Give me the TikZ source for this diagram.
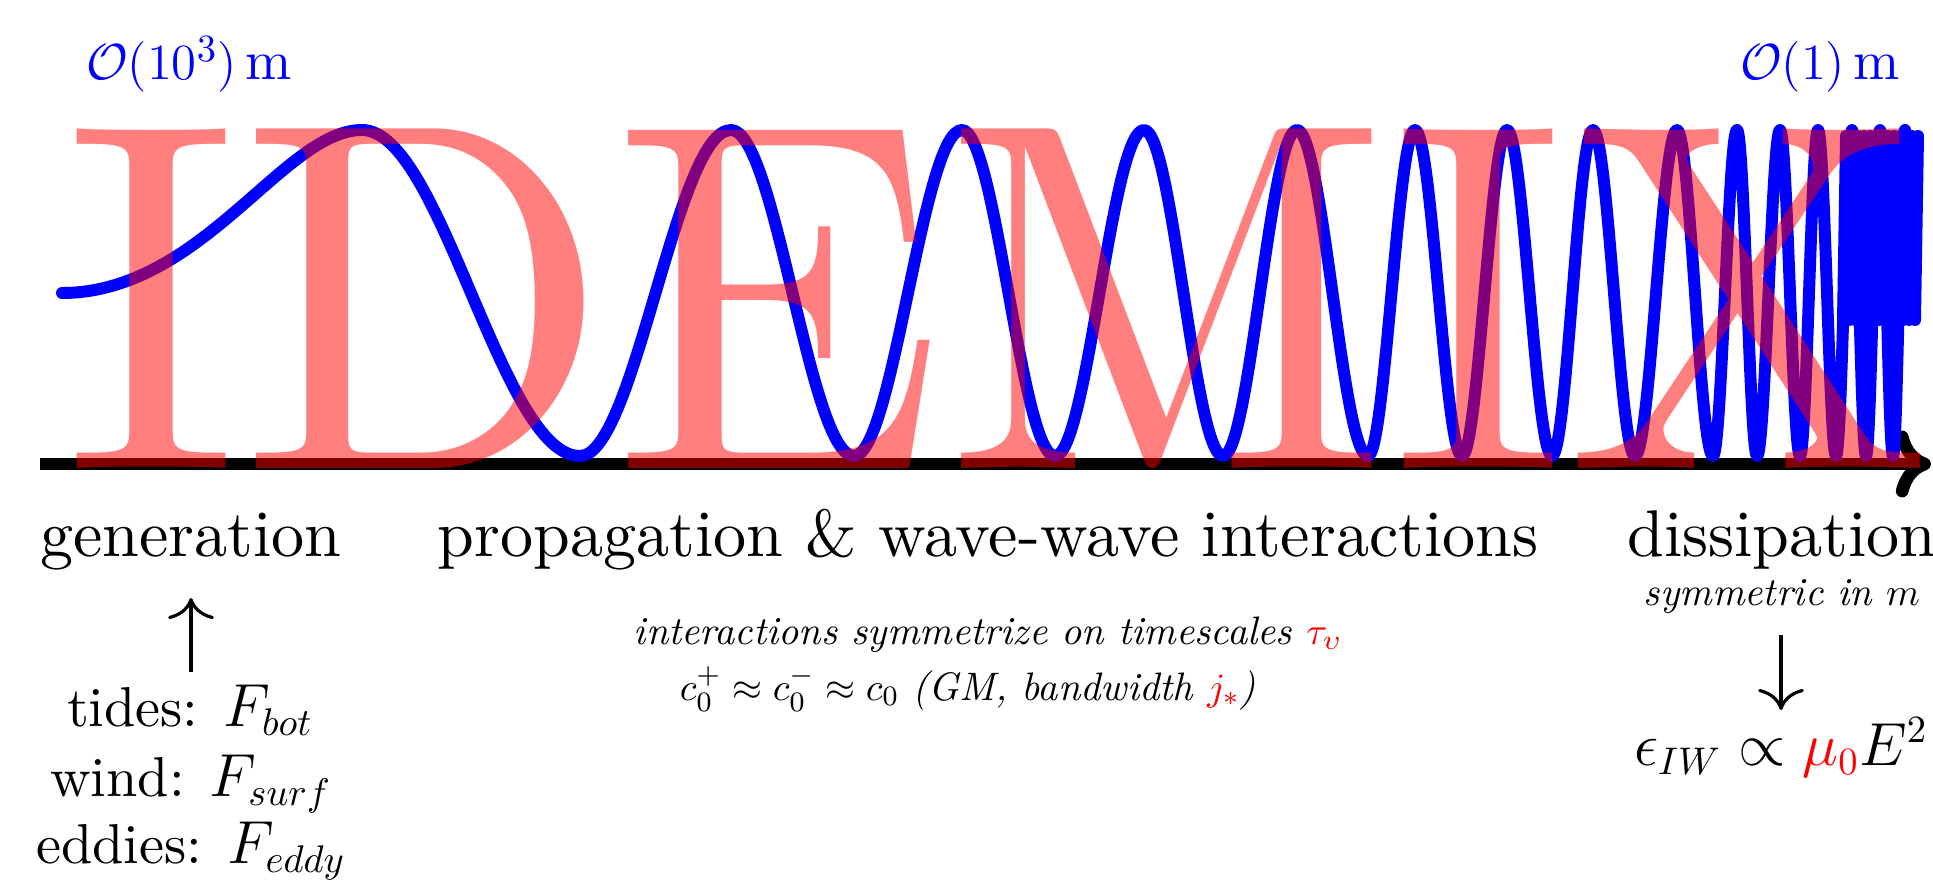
\documentclass[tikz,border=0pt]{standalone}
\usepackage{amsmath,amssymb}
\usepackage{fontspec}
\setmainfont{lmroman10}[Extension=.otf, UprightFont=*-regular, ItalicFont=*-italic, BoldFont=*-bold, BoldItalicFont=*-bolditalic]
\usetikzlibrary{arrows.meta}
\begin{document}
\begin{tikzpicture}[x=0.01cm,y=-0.01cm,
  lbl/.style={inner sep=0pt, anchor=base, font=\fontsize{18.8}{22}\selectfont},
  scl/.style={inner sep=0pt, anchor=base, text=blue, font=\fontsize{15.8}{19}\selectfont},
  frc/.style={inner sep=0pt, anchor=base, font=\fontsize{16}{19}\selectfont},
  itl/.style={inner sep=0pt, anchor=base, font=\fontsize{11.3}{14}\selectfont},
  epsl/.style={inner sep=0pt, anchor=base, font=\fontsize{16.3}{19}\selectfont},
  wave/.style={blue, line width=3.4pt, line join=round, line cap=round},
  axisline/.style={line width=3.6pt, -{Computer Modern Rightarrow[length=10pt,width=19pt]}},
  conn/.style={line width=0.9pt, -{Computer Modern Rightarrow[length=6pt,width=13pt]}},
  wmark/.style={inner sep=0pt, anchor=base, text=red, text opacity=0.5, xscale=0.98, font=\fontsize{141.4}{150}\selectfont}
]
\fill[white] (0,0) rectangle (1933,885);
\useasboundingbox (0,0) rectangle (1933,885);

% axis
\coordinate (ax0) at (40,464);
\coordinate (ax1) at (1931,464);
\draw[axisline] (ax0) -- (ax1);

% chirped wave
\draw[wave] plot[domain=0:300,samples=60,smooth] ({62+\x},{293-163*sin(90*(\x/300)^2)})
  \foreach \a/\b/\yb in {362/580/456, 580/731/130, 731/854/456, 854/962/130, 962/1055/456,
     1055/1144/130, 1144/1223/456, 1223/1297/130, 1297/1368/456, 1368/1415/130,
     1415/1462/456, 1462/1507/130, 1507/1552/456, 1552/1593/130, 1593/1635/456,
     1635/1677/130, 1677/1713/456, 1713/1737/130, 1737/1757/456, 1757/1780/130,
     1780/1800/456, 1800/1818/130, 1818/1836/456, 1836/1852/130, 1852/1866/456,
     1866/1880/130, 1880/1893/456, 1893/1905/130}
  { cos ({(\a+\b)/2},293) sin (\b,\yb) };
\draw[wave] plot[domain=0:25,samples=26] ({1843+3*\x},{228+92*cos(180*\x)});

% scale labels
\node[scl] (lscale) at (189,80) {$\mathcal{O}(10^3)\,\mathrm{m}$};
\node[scl] (sscale) at (1820,80) {$\mathcal{O}(1)\,\mathrm{m}$};

% stage labels
\node[lbl] (gen) at (191,556) {generation};
\node[lbl] (prop) at (988,556) {propagation \& wave-wave interactions};
\node[lbl] (diss) at (1782,556) {dissipation};

% generation column
\node[frc] (tides) at (190,726) {tides: $F_{bot}$};
\node[frc] (wind) at (191,796) {wind: $F_{surf}$};
\node[frc] (eddies) at (191,863) {eddies: $F_{eddy}$};
\coordinate (upa) at (191,672);
\coordinate (upb) at (191,598);
\draw[conn] (upa) -- (upb);

% propagation notes
\node[itl] (inter) at (988,644) {\itshape interactions symmetrize on timescales \textcolor{red}{$\tau_\upsilon$}};
\node[itl] (cnote) at (968,700) {$c_0^+\approx c_0^-\approx c_0$ \textit{(GM, bandwidth} \textcolor{red}{$j_*$}\textit{)}};

% dissipation column
\node[itl] (symm) at (1782,605) {\textit{symmetric in} $m$};
\coordinate (dna) at (1781,635);
\coordinate (dnb) at (1781,710);
\draw[conn] (dna) -- (dnb);
\node[epsl] (epsn) at (1781,765) {$\epsilon_{IW}\propto\textcolor{red}{\mu_0}E^2$};

% watermark
\node[wmark] (wm) at (998,468) {IDEMIX};
\end{tikzpicture}
\end{document}
